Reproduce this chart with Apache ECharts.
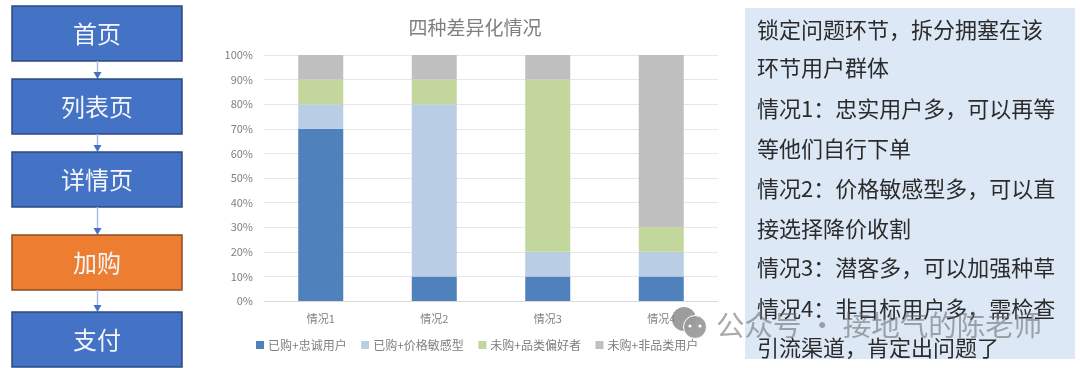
<!DOCTYPE html>
<html>
<head>
<meta charset="utf-8">
<title>四种差异化情况</title>
<style>
  html, body { margin: 0; padding: 0; background: #fff; }
  #main { width: 1080px; height: 368px; }
</style>
<script src="https://cdn.jsdelivr.net/npm/echarts@6/dist/echarts.min.js"></script>
</head>
<body>
<div id="main"></div>
<script>
var FONT = '"Noto Sans CJK SC", "Noto Sans", sans-serif';

// chart data
var categories = ['情况1', '情况2', '情况3', '情况4'];
var seriesNames = ['已购+忠诚用户', '已购+价格敏感型', '未购+品类偏好者', '未购+非品类用户'];
var loyal = [70, 10, 10, 10];
var priceSensitive = [10, 70, 10, 10];
var categoryFans = [10, 10, 70, 10];
var nonTarget = [10, 10, 10, 70];
var seriesColors = ['#4f81bd', '#b9cde5', '#c3d69b', '#bfbfbf'];

// left funnel + right notes
var steps = ['首页', '列表页', '详情页', '加购', '支付'];
var notes = [
  '锁定问题环节，拆分拥塞在该',
  '环节用户群体',
  '情况1：忠实用户多，可以再等',
  '等他们自行下单',
  '情况2：价格敏感型多，可以直',
  '接选择降价收割',
  '情况3：潜客多，可以加强种草',
  '情况4：非目标用户多，需检查',
  '引流渠道，肯定出问题了'
];

var stepTops = [6, 79, 152, 235, 312];
var noteYs = [30, 68, 109, 149, 189, 229, 268, 309, 348];
var graphics = [];

stepTops.forEach(function (top, i) {
  var hot = steps[i] === '加购';
  graphics.push({
    type: 'rect',
    shape: { x: 12, y: top, width: 170, height: 55 },
    style: { fill: hot ? '#ed7d31' : '#4472c4', stroke: hot ? '#8a4e24' : '#2c4a80', lineWidth: 1.5 }
  });
  graphics.push({
    type: 'text',
    style: { x: 97, y: top + 28, text: steps[i], fill: '#f4f6fb', font: '24px ' + FONT, align: 'center', verticalAlign: 'middle' }
  });
  if (i < stepTops.length - 1) {
    var y1 = top + 55, y2 = stepTops[i + 1];
    graphics.push({
      type: 'line',
      shape: { x1: 97.5, y1: y1, x2: 97.5, y2: y2 - 6 },
      style: { stroke: '#a9bde6', lineWidth: 1.5 }
    });
    graphics.push({
      type: 'polygon',
      shape: { points: [[93.5, y2 - 7], [101.5, y2 - 7], [97.5, y2]] },
      style: { fill: '#4472c4' }
    });
  }
});

graphics.push({
  type: 'rect',
  z: 0,
  shape: { x: 745, y: 8, width: 330, height: 351 },
  style: { fill: '#dce8f5' }
});
noteYs.forEach(function (y, i) {
  graphics.push({
    type: 'text',
    style: { x: 757, y: y, text: notes[i], fill: '#2b2b2b', font: '22px ' + FONT, verticalAlign: 'middle' }
  });
});

// watermark
graphics.push({ type: 'circle', z: 50, shape: { cx: 684, cy: 319, r: 12 }, style: { fill: 'rgba(140,140,140,0.85)' } });
graphics.push({ type: 'circle', z: 51, shape: { cx: 695, cy: 327, r: 11.5 }, style: { fill: 'rgba(155,155,155,0.95)', stroke: '#fff', lineWidth: 1 } });
graphics.push({ type: 'circle', z: 52, shape: { cx: 690, cy: 326, r: 1.6 }, style: { fill: '#fff' } });
graphics.push({ type: 'circle', z: 52, shape: { cx: 700, cy: 326, r: 1.6 }, style: { fill: '#fff' } });
graphics.push({
  type: 'text',
  z: 50,
  style: { x: 716, y: 325, text: '公众号 · 接地气的陈老师', fill: 'rgba(100,100,100,0.55)', font: '28.5px ' + FONT, verticalAlign: 'middle' }
});

function barSeries(i, values) {
  return {
    name: seriesNames[i],
    type: 'bar',
    stack: 'total',
    barWidth: 45,
    itemStyle: { color: seriesColors[i] },
    data: values
  };
}

var chart = echarts.init(document.getElementById('main'));
chart.setOption({
  animation: false,
  textStyle: { fontFamily: FONT },
  title: {
    text: '四种差异化情况',
    left: 470,
    top: 13,
    textAlign: 'center',
    textStyle: { fontSize: 19, fontWeight: 'normal', color: '#7f7f7f', fontFamily: FONT }
  },
  grid: { left: 264, top: 55, width: 454, height: 246 },
  legend: {
    left: 251,
    top: 334,
    itemWidth: 8,
    itemHeight: 8,
    itemGap: 14.5,
    icon: 'rect',
    textStyle: { fontSize: 12, color: '#7f7f7f', padding: [0, 0, 0, -1] },
    data: seriesNames
  },
  xAxis: {
    type: 'category',
    data: categories,
    axisLine: { lineStyle: { color: '#d9d9d9' } },
    axisTick: { show: false },
    axisLabel: { fontSize: 11, color: '#7f7f7f', margin: 12 }
  },
  yAxis: {
    type: 'value',
    min: 0,
    max: 100,
    interval: 10,
    axisLine: { show: false },
    axisTick: { show: false },
    axisLabel: { formatter: '{value}%', fontSize: 11, color: '#7f7f7f', margin: 11 },
    splitLine: { lineStyle: { color: '#e7e7e7' } }
  },
  series: [
    barSeries(0, loyal),
    barSeries(1, priceSensitive),
    barSeries(2, categoryFans),
    barSeries(3, nonTarget)
  ],
  graphic: { elements: graphics }
});
</script>
</body>
</html>
